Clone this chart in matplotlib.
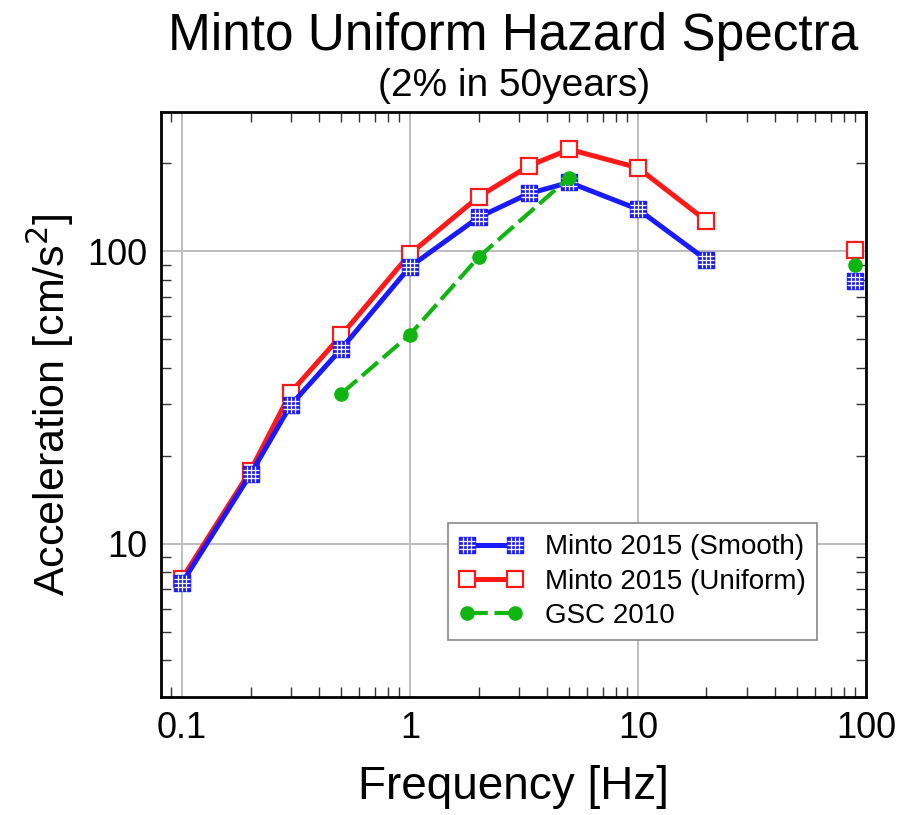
import matplotlib

matplotlib.use("Agg")
import matplotlib.pyplot as plt
from matplotlib.legend_handler import HandlerTuple
from matplotlib.path import Path
from matplotlib.ticker import LogLocator, NullFormatter, FixedLocator, FixedFormatter

# values
FREQ = [0.1, 0.2, 0.3, 0.5, 1.0, 2.0, 3.33, 5.0, 10.0, 20.0]
SMOOTH = [7.35, 17.3, 29.8, 46.4, 88.5, 130.6, 157.6, 171.9, 139.3, 93.4]
UNIFORM = [7.6, 17.8, 32.9, 51.6, 97.9, 153.5, 195.8, 223.0, 193.0, 127.0]
GSC_FREQ = [0.5, 1.0, 2.0, 5.0]
GSC = [32.6, 51.9, 95.4, 178.6]
PGA_FREQ = [90.0]
PGA_SMOOTH = [79.0]
PGA_UNIFORM = [101.3]
PGA_GSC = [90.0]

XTICKS = [0.1, 1, 10, 100]
XTICKLABELS = ["0.1", "1", "10", "100"]
YTICKS = [10, 100]
YTICKLABELS = ["10", "100"]

plt.rcParams["font.family"] = ["Liberation Sans", "DejaVu Sans"]

BLUE = "#1a1aff"
RED = "#ff1a1a"
GREEN = "#11b511"

# white grid drawn on top of the blue squares
grid_verts = [(-1, -1), (1, 1)]
grid_codes = [Path.MOVETO, Path.MOVETO]
for v in (-0.5, 0.0, 0.5):
    grid_verts += [(v, -0.92), (v, 0.92), (-0.92, v), (0.92, v)]
    grid_codes += [Path.MOVETO, Path.LINETO, Path.MOVETO, Path.LINETO]
GRID_MARKER = Path(grid_verts, grid_codes)

fig = plt.figure(figsize=(9.01, 8.15), dpi=100)
ax = fig.add_axes([0.1787, 0.1448, 0.7823, 0.7182])

ms_sq = 12.2
(l_smooth,) = ax.plot(FREQ, SMOOTH, color=BLUE, lw=3.6, marker="s", ms=ms_sq,
                      mfc=BLUE, mec=BLUE, mew=1.0, zorder=4)
(g_smooth,) = ax.plot(FREQ, SMOOTH, ls="none", marker=GRID_MARKER, ms=ms_sq,
                      mec="white", mfc="none", mew=0.9, zorder=5)
(l_unif,) = ax.plot(FREQ, UNIFORM, color=RED, lw=3.6, marker="s", ms=ms_sq,
                    mfc="white", mec=RED, mew=1.6, zorder=3)
(l_gsc,) = ax.plot(GSC_FREQ, GSC, color=GREEN, lw=3.0, ls=(0, (5, 1.6)),
                   marker="o", ms=9.5, mfc=GREEN, mec=GREEN, zorder=6)

# PGA points near the right edge
ax.plot(PGA_FREQ, PGA_UNIFORM, ls="none", marker="s", ms=ms_sq, mfc="white",
        mec=RED, mew=1.6, zorder=3, clip_on=False)
ax.plot(PGA_FREQ, PGA_SMOOTH, ls="none", marker="s", ms=ms_sq, mfc=BLUE,
        mec=BLUE, zorder=4, clip_on=False)
ax.plot(PGA_FREQ, PGA_SMOOTH, ls="none", marker=GRID_MARKER, ms=ms_sq,
        mec="white", mfc="none", mew=0.9, zorder=5, clip_on=False)
ax.plot(PGA_FREQ, PGA_GSC, ls="none", marker="o", ms=9.5, mfc=GREEN, mec=GREEN,
        zorder=6, clip_on=False)

ax.set_xscale("log")
ax.set_yscale("log")
ax.set_xlim(0.081, 100)
ax.set_ylim(3.0, 300)

ax.xaxis.set_major_locator(FixedLocator(XTICKS))
ax.xaxis.set_major_formatter(FixedFormatter(XTICKLABELS))
ax.yaxis.set_major_locator(FixedLocator(YTICKS))
ax.yaxis.set_major_formatter(FixedFormatter(YTICKLABELS))
for axis in (ax.xaxis, ax.yaxis):
    axis.set_minor_locator(LogLocator(base=10, subs=range(2, 10), numticks=20))
    axis.set_minor_formatter(NullFormatter())

ax.tick_params(which="both", direction="in", top=True, right=True,
               labelsize=26, width=1.0, color="#333333", pad=10)
ax.tick_params(which="major", length=0)
ax.tick_params(which="minor", length=7)
ax.grid(True, which="major", color="#bdbdbd", lw=1.4)
ax.set_axisbelow(True)
for sp in ax.spines.values():
    sp.set_linewidth(2.0)
    sp.set_color("black")

ax.set_xlabel("Frequency [Hz]", fontsize=33, labelpad=14)
ax.set_ylabel("Acceleration [cm/s$^2$]", fontsize=31, labelpad=8)

fig.text(0.57, 0.955, "Minto Uniform Hazard Spectra", fontsize=37,
         ha="center", va="center")
fig.text(0.57, 0.895, "(2% in 50years)", fontsize=28, ha="center", va="center")

leg = ax.legend(
    [(l_smooth, g_smooth), l_unif, l_gsc],
    ["Minto 2015 (Smooth)", "Minto 2015 (Uniform)", "GSC 2010"],
    handler_map={tuple: HandlerTuple(ndivide=1, pad=0)},
    loc="upper left", bbox_to_anchor=(0.407, 0.297), fontsize=20,
    numpoints=2, handlelength=2.3, handletextpad=0.8, labelspacing=0.3,
    borderpad=0.4, borderaxespad=0, fancybox=False, framealpha=1,
    edgecolor="#888888",
)
leg.get_frame().set_linewidth(1.2)

fig.savefig("out.png", dpi=100)
